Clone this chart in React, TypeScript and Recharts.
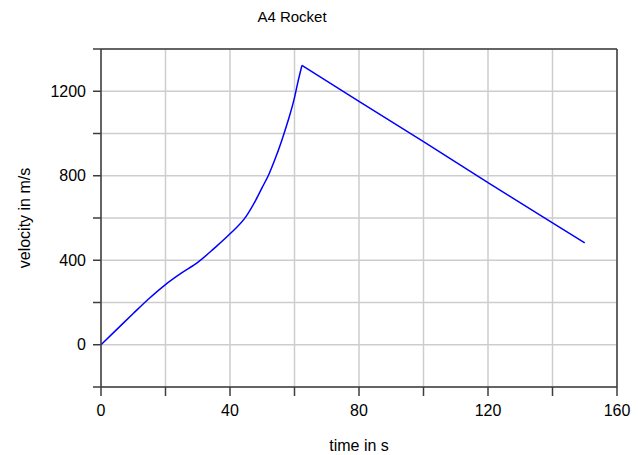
import {
    LineChart,
    Line,
    XAxis,
    YAxis,
    CartesianGrid,
    ReferenceLine,
    Label,
} from "recharts";

// burn phase (smooth) and coast phase (straight)
const burnTime = [0, 5, 10, 15, 20, 25, 30, 35, 40, 45, 48, 50, 52, 54, 56, 58, 60, 61, 62.3];
const burnVelocity = [0, 74, 148, 220, 285, 340, 390, 455, 525, 608, 685, 745, 805, 880, 965, 1060, 1170, 1240, 1322];
const coastTime = [62.3, 80, 100, 120, 140, 150];
const coastVelocity = [1322, 1152, 961, 767, 577, 482];

const xTicks = [0, 20, 40, 60, 80, 100, 120, 140, 160];
const yTicks = [-200, 0, 200, 400, 600, 800, 1000, 1200, 1400];

const burn = burnTime.map((t, i) => ({ t, v: burnVelocity[i] }));
const coast = coastTime.map((t, i) => ({ t, v: coastVelocity[i] }));

const font = "'Liberation Sans', Arial, sans-serif";
const frame = "#3c3c3c";

const App = () => {
    return (
        <div style={{ position: "absolute", left: 0, top: 0, width: 638, height: 455, background: "#fff", fontFamily: font }}>
            <div
                style={{
                    position: "absolute",
                    left: 0,
                    width: 584,
                    top: 8,
                    textAlign: "center",
                    fontSize: 15,
                    color: "#000",
                }}
            >
                A4 Rocket
            </div>
            <LineChart
                width={638}
                height={455}
                margin={{ top: 49, right: 21, left: 0, bottom: 0 }}
            >
                <CartesianGrid stroke="#cdcdcd" strokeWidth={1.5} />
                <XAxis
                    dataKey="t"
                    type="number"
                    domain={[0, 160]}
                    ticks={xTicks}
                    tickFormatter={(v) => (v % 40 === 0 ? String(v) : "")}
                    height={68}
                    stroke={frame}
                    strokeWidth={1.5}
                    tickSize={9}
                    tickMargin={9}
                    tick={{ fill: "#000", fontSize: 16, fontFamily: font }}
                    allowDuplicatedCategory={false}
                >
                    <Label
                        value="time in s"
                        position="insideBottom"
                        offset={4}
                        style={{ fill: "#000", fontSize: 16, fontFamily: font }}
                    />
                </XAxis>
                <YAxis
                    type="number"
                    domain={[-200, 1400]}
                    ticks={yTicks}
                    tickFormatter={(v) => (v % 400 === 0 ? String(v) : "")}
                    width={101}
                    stroke={frame}
                    strokeWidth={1.5}
                    tickSize={8}
                    tickMargin={7}
                    interval={0}
                    tick={{ fill: "#000", fontSize: 16, fontFamily: font }}
                >
                    <Label
                        content={() => (
                            <text
                                x={24}
                                y={218}
                                transform="rotate(-90 24 218)"
                                textAnchor="middle"
                                dominantBaseline="central"
                                fill="#000"
                                fontSize={16}
                                fontFamily={font}
                            >
                                velocity in m/s
                            </text>
                        )}
                    />
                </YAxis>
                <ReferenceLine y={1400} stroke={frame} strokeWidth={1.5} />
                <ReferenceLine x={160} stroke={frame} strokeWidth={1.5} />
                <Line
                    data={burn}
                    type="monotone"
                    dataKey="v"
                    stroke="#0000ff"
                    strokeWidth={1.5}
                    dot={false}
                    isAnimationActive={false}
                />
                <Line
                    data={coast}
                    type="linear"
                    dataKey="v"
                    stroke="#0000ff"
                    strokeWidth={1.5}
                    dot={false}
                    isAnimationActive={false}
                />
            </LineChart>
        </div>
    );
};

export default App;
